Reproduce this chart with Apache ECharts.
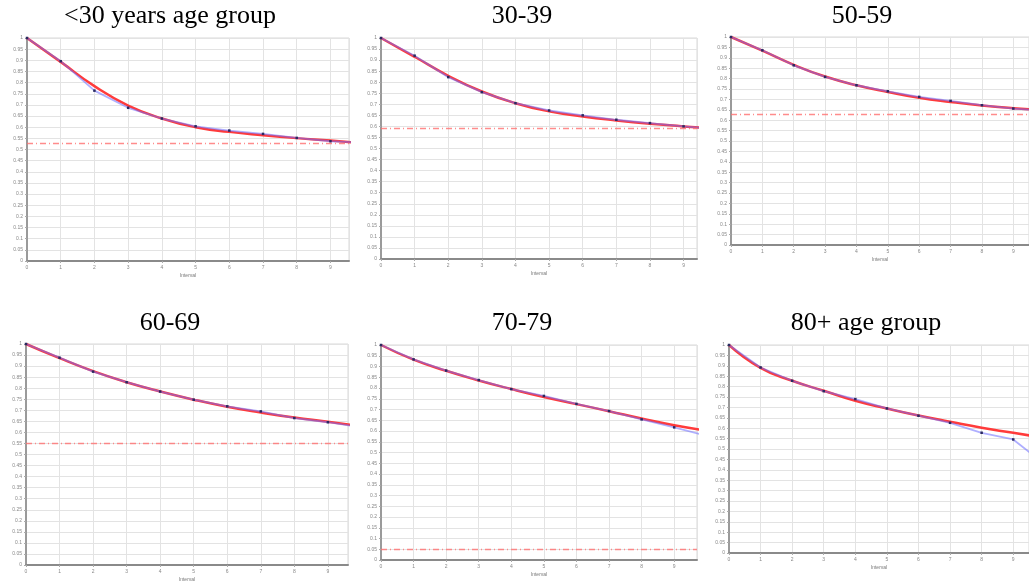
<!DOCTYPE html>
<html>
<head>
<meta charset="utf-8">
<style>
  html, body { margin: 0; padding: 0; background: #fff; }
  #chart { width: 1029px; height: 583px; }
</style>
<script src="https://cdn.jsdelivr.net/npm/echarts@6/dist/echarts.min.js"></script>
</head>
<body>
<div id="chart"></div>
<script>
// panel titles
var panelTitles = ['<30 years age group', '30-39', '50-59', '60-69', '70-79', '80+ age group']

// interval values 0..10 (10 is past the right edge and gets clipped)
var intervals = [0, 1, 2, 3, 4, 5, 6, 7, 8, 9, 10]

// observed survival (blue, with markers)
var observed = [
  [1, 0.896, 0.764, 0.687, 0.639, 0.604, 0.585, 0.570, 0.552, 0.537, 0.530],
  [1, 0.920, 0.823, 0.755, 0.705, 0.672, 0.650, 0.630, 0.615, 0.600, 0.588],
  [1, 0.936, 0.864, 0.808, 0.768, 0.739, 0.712, 0.693, 0.672, 0.656, 0.645],
  [1, 0.938, 0.875, 0.827, 0.785, 0.748, 0.718, 0.695, 0.665, 0.646, 0.623],
  [1, 0.933, 0.881, 0.837, 0.795, 0.763, 0.726, 0.693, 0.654, 0.617, 0.577],
  [1, 0.892, 0.828, 0.778, 0.740, 0.695, 0.660, 0.626, 0.578, 0.546, 0.426]
]

// fitted curve (red)
var fitted = [
  [1, 0.893, 0.784, 0.697, 0.639, 0.600, 0.579, 0.564, 0.551, 0.540, 0.528],
  [1, 0.915, 0.829, 0.758, 0.705, 0.668, 0.645, 0.627, 0.612, 0.600, 0.588],
  [1, 0.934, 0.866, 0.810, 0.768, 0.736, 0.708, 0.688, 0.671, 0.658, 0.648],
  [1, 0.936, 0.877, 0.827, 0.785, 0.748, 0.716, 0.690, 0.667, 0.648, 0.627],
  [1, 0.932, 0.880, 0.835, 0.795, 0.758, 0.725, 0.692, 0.658, 0.627, 0.602],
  [1, 0.890, 0.828, 0.780, 0.732, 0.695, 0.661, 0.631, 0.602, 0.578, 0.553]
]

// reference level (red dash-dot), null = none
var refLevel = [0.53, 0.59, 0.632, 0.553, 0.051, null]

// right end of each x axis
var xMax = [9.55, 9.4, 9.5, 9.6, 9.7, 9.5]

// panel boxes in px: left, top, width, height
var boxes = [
  [27, 38, 322, 223],
  [381, 38, 316, 221],
  [731, 37, 300, 208],
  [26, 344, 322, 222],
  [381, 345, 316, 215],
  [729, 345, 300, 208]
]
var titlePos = [[170, 16], [522, 16], [862, 16], [170, 323], [522, 323], [866, 323]]

var chart = echarts.init(document.getElementById('chart'))

var grids = [], xAxes = [], yAxes = [], series = [], graphics = []
for (var i = 0; i < 6; i++) {
  var b = boxes[i]
  grids.push({
    left: b[0], top: b[1], width: b[2], height: b[3],
    show: true, borderColor: '#d8d8d8', borderWidth: 1, backgroundColor: '#fff'
  })
  xAxes.push({
    gridIndex: i, type: 'value', min: 0, max: xMax[i], interval: 1,
    name: 'Interval', nameLocation: 'middle', nameGap: 12,
    nameTextStyle: { fontSize: 5, color: '#777' },
    axisLine: { lineStyle: { color: '#8a8a8a', width: 2 } },
    axisTick: { show: true, length: 2, lineStyle: { color: '#aaa' } },
    axisLabel: { fontSize: 5, color: '#888', margin: 4, showMaxLabel: false },
    splitLine: { show: true, lineStyle: { color: '#e3e3e3' } }
  })
  yAxes.push({
    gridIndex: i, type: 'value', min: 0, max: 1, interval: 0.05,
    axisLine: { show: true, lineStyle: { color: '#9a9a9a', width: 2 } },
    axisTick: { show: true, length: 2, lineStyle: { color: '#aaa' } },
    axisLabel: { fontSize: 5, color: '#888', margin: 4 },
    splitLine: { show: true, lineStyle: { color: '#e3e3e3' } }
  })

  var fitData = [], obsData = []
  for (var k = 0; k < intervals.length; k++) {
    fitData.push([intervals[k], fitted[i][k]])
    obsData.push([intervals[k], observed[i][k]])
  }

  var fitSeries = {
    type: 'line', xAxisIndex: i, yAxisIndex: i,
    data: fitData, smooth: true, symbol: 'none',
    lineStyle: { color: '#ff3b3b', width: 2.5 },
    silent: true, z: 3
  }
  if (refLevel[i] !== null) {
    fitSeries.markLine = {
      silent: true, symbol: 'none', label: { show: false },
      lineStyle: { color: '#ff6f6f', width: 1.3, type: [6, 3, 1, 3], opacity: 0.8 },
      emphasis: { disabled: true },
      data: [{ yAxis: refLevel[i] }]
    }
  }
  series.push(fitSeries)
  series.push({
    type: 'line', xAxisIndex: i, yAxisIndex: i,
    data: obsData, symbol: 'rect', symbolSize: 2.5,
    itemStyle: { color: '#2a2a60' },
    lineStyle: { color: 'rgba(110,110,255,0.55)', width: 1.8 },
    silent: true, z: 4
  })

  graphics.push({
    type: 'text', x: titlePos[i][0], y: titlePos[i][1],
    style: {
      text: panelTitles[i], fill: '#000',
      font: '26px "Liberation Serif", "Times New Roman", serif',
      textAlign: 'center', textVerticalAlign: 'middle'
    }
  })
}

chart.setOption({
  animation: false,
  grid: grids,
  xAxis: xAxes,
  yAxis: yAxes,
  series: series,
  graphic: graphics
})
</script>
</body>
</html>
